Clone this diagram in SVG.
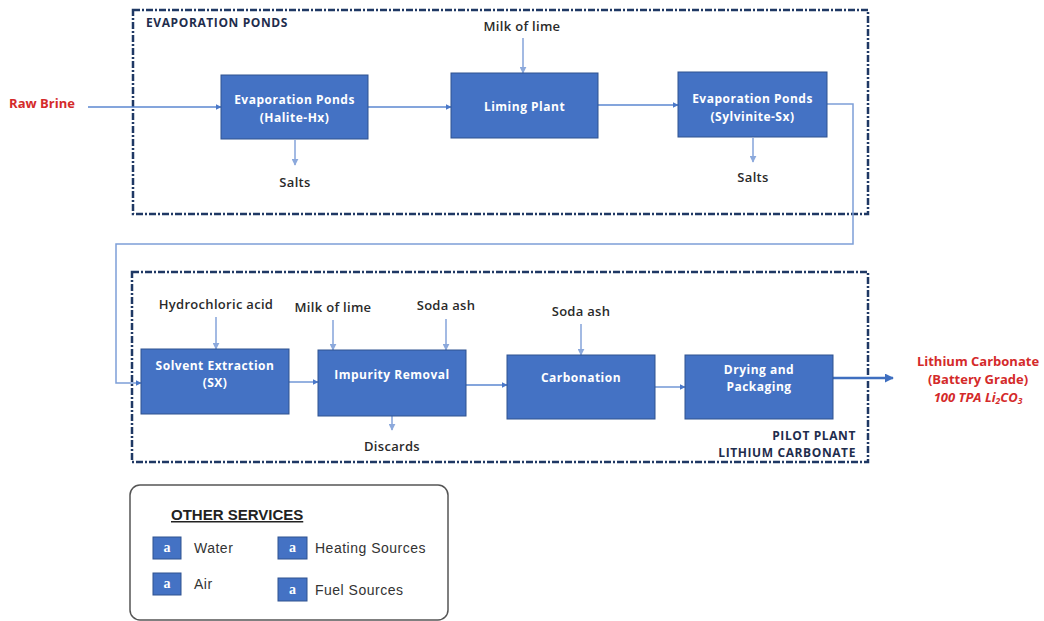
<svg xmlns="http://www.w3.org/2000/svg" width="1044" height="621" viewBox="0 0 1044 621">
<defs>
<marker id="ah" viewBox="0 0 10 10" refX="9" refY="5" markerWidth="6" markerHeight="6" orient="auto" markerUnits="userSpaceOnUse"><path d="M0,0 L10,5 L0,10 z" fill="#4A78C8"/></marker>
<marker id="ahl" viewBox="0 0 10 10" refX="9" refY="5" markerWidth="7" markerHeight="7" orient="auto" markerUnits="userSpaceOnUse"><path d="M0,0 L10,5 L0,10 z" fill="#8CA9DC"/></marker>
<marker id="ahb" viewBox="0 0 10 10" refX="9" refY="5" markerWidth="9" markerHeight="9" orient="auto" markerUnits="userSpaceOnUse"><path d="M0,0 L10,5 L0,10 z" fill="#3F6FC0"/></marker>
<style>
.box{fill:#4472C4;stroke:#2F528F;stroke-width:1}
.bt{font-family:"Open Sans","Liberation Sans",sans-serif;font-weight:700;font-size:12px;letter-spacing:0.5px;fill:#ffffff;text-anchor:middle}
.lb{font-family:"Open Sans","Liberation Sans",sans-serif;font-weight:600;font-size:13px;letter-spacing:0.3px;fill:#2a2a2a;text-anchor:middle}
.frame{fill:none;stroke:#1F3864;stroke-width:2.5;stroke-dasharray:7 2 2 2}
.flow{fill:none;stroke:#5B87D0;stroke-width:1.3;marker-end:url(#ah)}
.feed{fill:none;stroke:#8CA9DC;stroke-width:1.6;marker-end:url(#ahl)}
.loop{fill:none;stroke:#7D9FD8;stroke-width:1.5}
.red{font-family:"Open Sans","Liberation Sans",sans-serif;font-weight:700;font-size:13px;fill:#D42A2A;text-anchor:middle}
.hd{font-family:"Open Sans","Liberation Sans",sans-serif;font-weight:700;font-size:12px;letter-spacing:0.6px;fill:#1F2D4D}
.leg{font-family:"Liberation Sans",Arial,sans-serif;font-size:14px;letter-spacing:0.5px;fill:#333}
.ico{fill:#4472C4;stroke:#2F528F;stroke-width:1}
.icot{font-family:"Liberation Serif",serif;font-weight:700;font-size:14px;fill:#fff;text-anchor:middle}
</style>
</defs>

<g id="frame-evaporation">
<rect class="frame" x="133" y="10" width="735" height="204"/>
<text class="hd" x="146" y="27">EVAPORATION PONDS</text>
</g>
<g id="frame-pilot">
<rect class="frame" x="132" y="272" width="736" height="190"/>
<text class="hd" x="856" y="440" text-anchor="end">PILOT PLANT</text>
<text class="hd" x="856" y="457" text-anchor="end">LITHIUM CARBONATE</text>
</g>

<g id="connectors">
<line class="flow" x1="88" y1="107" x2="221" y2="107"/>
<line class="flow" x1="368" y1="107" x2="451" y2="107"/>
<line class="flow" x1="598" y1="105" x2="678" y2="105"/>
<line class="feed" x1="523" y1="38" x2="523" y2="73"/>
<line class="feed" x1="295" y1="140" x2="295" y2="165"/>
<line class="feed" x1="753" y1="138" x2="753" y2="162"/>
<polyline class="loop" points="827,104 853,104 853,244 116,244 116,383 141,383" marker-end="url(#ah)"/>
<line class="flow" x1="289" y1="382" x2="318" y2="382"/>
<line class="flow" x1="466" y1="385" x2="507" y2="385"/>
<line class="flow" x1="655" y1="387" x2="685" y2="387"/>
<line x1="833" y1="378" x2="893" y2="378" stroke="#3F6FC0" stroke-width="2.5" marker-end="url(#ahb)"/>
<line class="feed" x1="216" y1="317" x2="216" y2="349"/>
<line class="feed" x1="333" y1="320" x2="333" y2="350"/>
<line class="feed" x1="446" y1="319" x2="446" y2="350"/>
<line class="feed" x1="581" y1="324" x2="581" y2="355"/>
<line class="feed" x1="392" y1="403" x2="392" y2="430"/>
</g>

<g id="raw-brine"><text class="red" x="42" y="108" font-size="14">Raw Brine</text></g>

<g id="node-halite">
<rect class="box" x="221" y="75" width="147" height="64"/>
<text class="bt" x="294.5" y="104">Evaporation Ponds</text>
<text class="bt" x="294.5" y="122">(Halite-Hx)</text>
</g>
<g id="node-liming">
<rect class="box" x="451" y="73" width="147" height="65"/>
<text class="bt" x="524.5" y="111">Liming Plant</text>
</g>
<g id="node-sylvinite">
<rect class="box" x="678" y="72" width="149" height="65"/>
<text class="bt" x="752.5" y="103">Evaporation Ponds</text>
<text class="bt" x="752.5" y="121">(Sylvinite-Sx)</text>
</g>
<g id="label-milk1"><text class="lb" x="522" y="31">Milk of lime</text></g>
<g id="label-salts1"><text class="lb" x="295" y="187">Salts</text></g>
<g id="label-salts2"><text class="lb" x="753" y="182">Salts</text></g>

<g id="node-sx">
<rect class="box" x="141" y="349" width="148" height="65"/>
<text class="bt" x="215" y="370">Solvent Extraction</text>
<text class="bt" x="215" y="387">(SX)</text>
</g>
<g id="node-impurity">
<rect class="box" x="318" y="350" width="148" height="66"/>
<text class="bt" x="392" y="379">Impurity Removal</text>
</g>
<g id="node-carbonation">
<rect class="box" x="507" y="355" width="148" height="64"/>
<text class="bt" x="581" y="382">Carbonation</text>
</g>
<g id="node-drying">
<rect class="box" x="685" y="355" width="148" height="64"/>
<text class="bt" x="759" y="374">Drying and</text>
<text class="bt" x="759" y="391">Packaging</text>
</g>
<g id="label-hcl"><text class="lb" x="216" y="309">Hydrochloric acid</text></g>
<g id="label-milk2"><text class="lb" x="333" y="312">Milk of lime</text></g>
<g id="label-soda1"><text class="lb" x="446" y="310">Soda ash</text></g>
<g id="label-soda2"><text class="lb" x="581" y="316">Soda ash</text></g>
<g id="label-discards"><text class="lb" x="392" y="451">Discards</text></g>

<g id="product">
<text class="red" x="978" y="366">Lithium Carbonate</text>
<text class="red" x="978" y="384">(Battery Grade)</text>
<text class="red" x="978" y="402" font-style="italic">100 TPA Li<tspan font-size="8.5" dy="2">2</tspan><tspan dy="-2">CO</tspan><tspan font-size="8.5" dy="2">3</tspan></text>
</g>

<g id="other-services">
<rect x="130" y="485" width="318" height="135" rx="10" ry="10" fill="#fff" stroke="#555" stroke-width="1.5"/>
<text x="171" y="520" font-family="'Liberation Sans',Arial,sans-serif" font-weight="700" font-size="15" fill="#222" text-decoration="underline">OTHER SERVICES</text>
<rect class="ico" x="153" y="537" width="28" height="22"/><text class="icot" x="167" y="552">a</text>
<text class="leg" x="194" y="553">Water</text>
<rect class="ico" x="153" y="573" width="28" height="22"/><text class="icot" x="167" y="588">a</text>
<text class="leg" x="194" y="589">Air</text>
<rect class="ico" x="278" y="537" width="29" height="22"/><text class="icot" x="292.5" y="552">a</text>
<text class="leg" x="315" y="553">Heating Sources</text>
<rect class="ico" x="278" y="578" width="29" height="23"/><text class="icot" x="292.5" y="594">a</text>
<text class="leg" x="315" y="595">Fuel Sources</text>
</g>
</svg>
